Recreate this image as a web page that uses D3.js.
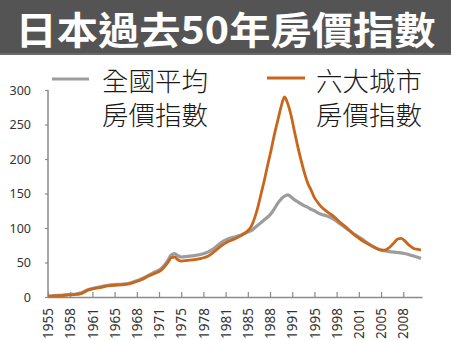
<!DOCTYPE html>
<html>
<head>
<meta charset="utf-8">
<script src="https://cdn.jsdelivr.net/npm/d3@7"></script>
<style>
  html, body { margin: 0; padding: 0; background: #fff; }
  svg { display: block; }
</style>
</head>
<body>
<svg id="chart" width="451" height="340"></svg>
<script>
// Japan house price index, 1955–2011
const titleText = "日本過去50年房價指數";
const seriesNames = [["全國平均", "房價指數"], ["六大城市", "房價指數"]];

const years = [
  1955, 1956, 1957, 1958, 1959, 1960, 1961, 1962, 1963, 1964,
  1965, 1966, 1967, 1968, 1969, 1970, 1971, 1972, 1973, 1973.5,
  1974, 1974.5, 1975, 1976, 1977, 1978, 1979, 1980, 1981, 1982,
  1983, 1984, 1985, 1985.5, 1986, 1986.5, 1987, 1987.5, 1988, 1988.5,
  1989, 1989.5, 1990, 1990.5, 1991, 1991.5, 1992, 1992.5, 1993, 1993.5,
  1994, 1994.5, 1995, 1995.5, 1996, 1997, 1998, 1999, 2000, 2001,
  2002, 2003, 2004, 2005, 2005.5, 2006, 2006.5, 2007, 2007.5, 2008,
  2008.5, 2009, 2009.5, 2010, 2010.5, 2011
];

// 全國平均房價指數
const nationalIndex = [
  1, 2, 2.5, 3.5, 4, 6, 10.5, 13, 15, 17,
  18, 18.5, 19.5, 22.5, 26, 31, 36, 41, 53, 61,
  63, 60, 58, 59, 60, 62, 65, 71, 79, 84,
  87, 90, 94, 96, 100, 104, 108, 112, 116, 121,
  128, 136, 142, 146, 148, 145, 141, 138, 135, 132,
  130, 127, 125, 122, 120, 117, 112, 105, 98, 91,
  85, 78, 72, 68, 67, 66, 65.5, 65, 64.5, 64,
  63, 62, 60.5, 59, 57.5, 56
];

// 六大城市房價指數
const sixCitiesIndex = [
  1, 1.5, 2, 3, 3.5, 5, 10, 12.5, 14, 16,
  17, 17.5, 18.5, 21.5, 25, 30, 34, 39, 50, 57,
  58, 54, 52, 53, 54, 56, 59, 66, 74, 80,
  84, 89, 96, 102, 114, 130, 150, 170, 192, 213,
  236, 256, 276, 290, 280, 263, 240, 218, 198, 180,
  165, 155, 144, 137, 131, 123, 116, 107, 99, 90,
  83, 77, 72, 68, 68, 70, 74, 79, 84, 85,
  82, 77, 73, 70, 69, 68
];

const yTicks = [0, 50, 100, 150, 200, 250, 300];
const xTickLabels = ["1955", "1958", "1961", "1965", "1968", "1971", "1975", "1978",
  "1981", "1985", "1988", "1991", "1995", "1998", "2001", "2005", "2008"];

const colors = ["#9c9c9c", "#c8661b"];

const svg = d3.select("#chart");
const W = 451;

// title bar
svg.append("rect").attr("x", 0).attr("y", 0).attr("width", W).attr("height", 55)
  .attr("fill", "#545454");
svg.append("rect").attr("x", 0).attr("y", 53).attr("width", W).attr("height", 2)
  .attr("fill", "#6a6a6a");
svg.append("text")
  .attr("x", W / 2).attr("y", 44)
  .attr("text-anchor", "middle")
  .attr("fill", "#ffffff")
  .attr("font-family", "'Noto Sans CJK TC', 'Noto Sans CJK SC', sans-serif")
  .attr("font-weight", 700)
  .attr("font-size", 38)
  .attr("textLength", 420)
  .attr("lengthAdjust", "spacingAndGlyphs")
  .text(titleText);

// plot geometry
const plot = { left: 48, right: 422, top: 90, bottom: 297 };

const x = d3.scaleLinear()
  .domain([1955, 2011.15])
  .range([plot.left, plot.right]);

const y = d3.scaleLinear()
  .domain([0, 300])
  .range([plot.bottom, plot.top]);

// tick positions step every 10/3 years along the time scale
const xTickVals = xTickLabels.map((_, i) => 1955 + i * 10 / 3);

const axisFont = "'Noto Sans', 'DejaVu Sans', sans-serif";

// y axis
const yAxis = svg.append("g")
  .attr("transform", `translate(${plot.left},0)`)
  .call(d3.axisLeft(y).tickValues(yTicks).tickSize(3).tickPadding(14));
yAxis.select(".domain").attr("stroke", "#8a8a8a").attr("stroke-width", 1.5)
  .attr("d", `M0,${plot.top}V${plot.bottom}`);
yAxis.selectAll(".tick line").attr("stroke", "#8a8a8a").attr("stroke-width", 1.2);
yAxis.selectAll(".tick text")
  .attr("font-family", axisFont).attr("font-size", 12.5).attr("fill", "#333");

// x axis
const xAxis = svg.append("g")
  .attr("transform", `translate(0,${plot.bottom})`)
  .call(d3.axisBottom(x).tickValues(xTickVals)
    .tickFormat((d, i) => xTickLabels[i]).tickSizeInner(-5).tickSizeOuter(0));
xAxis.select(".domain").attr("stroke", "#8a8a8a").attr("stroke-width", 1.5);
xAxis.selectAll(".tick line").attr("stroke", "#8a8a8a").attr("stroke-width", 1.2);
xAxis.selectAll(".tick text")
  .attr("font-family", axisFont).attr("font-size", 13.5).attr("fill", "#333")
  .attr("transform", "rotate(-90)")
  .attr("text-anchor", "end")
  .attr("x", -11).attr("y", 0).attr("dy", "0.35em");

// lines
const line = d3.line()
  .x((d, i) => x(years[i]))
  .y(d => y(d))
  .curve(d3.curveMonotoneX);

svg.append("path").datum(nationalIndex)
  .attr("fill", "none").attr("stroke", colors[0]).attr("stroke-width", 3.2)
  .attr("stroke-linejoin", "round").attr("d", line);
svg.append("path").datum(sixCitiesIndex)
  .attr("fill", "none").attr("stroke", colors[1]).attr("stroke-width", 2.8)
  .attr("stroke-linejoin", "round").attr("d", line);

// legend
const legendItems = [
  { x0: 52, x1: 89, tx: 102, ly: 79 },
  { x0: 267, x1: 305, tx: 316, ly: 78 }
];
legendItems.forEach((it, k) => {
  svg.append("line")
    .attr("x1", it.x0).attr("x2", it.x1).attr("y1", it.ly).attr("y2", it.ly)
    .attr("stroke", colors[k]).attr("stroke-width", 3);
  seriesNames[k].forEach((t, j) => {
    svg.append("text")
      .attr("x", it.tx).attr("y", 91 + j * 34)
      .attr("fill", "#1a1a1a")
      .attr("font-family", "'Noto Sans CJK TC', 'Noto Sans CJK SC', sans-serif")
      .attr("font-weight", 300)
      .attr("font-size", 26.5)
      .text(t);
  });
});
</script>
</body>
</html>
